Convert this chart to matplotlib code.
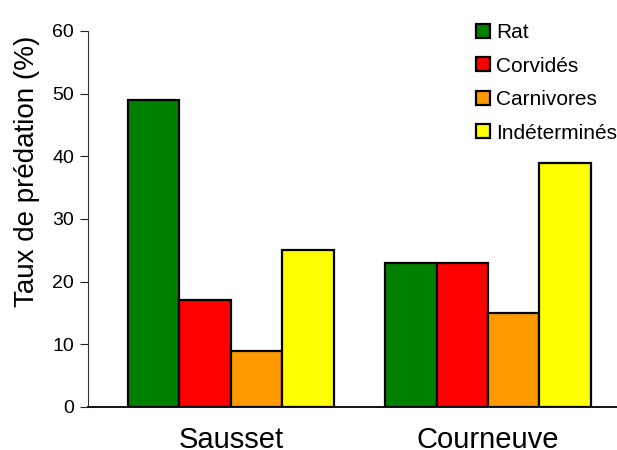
import numpy as np
import matplotlib.pyplot as plt

# data
sites = ["Sausset", "Courneuve"]
predators = ["Rat", "Corvidés", "Carnivores", "Indéterminés"]
rat = [49, 23]
corvides = [17, 23]
carnivores = [9, 15]
indetermines = [25, 39]
yticks = [0, 10, 20, 30, 40, 50, 60]

series = [rat, corvides, carnivores, indetermines]
colors = ["#008000", "#ff0000", "#ff9900", "#ffff00"]

plt.rcParams['font.family'] = ['Liberation Sans', 'DejaVu Sans']

fig = plt.figure(figsize=(6.17, 4.5), dpi=100)
ax = fig.add_axes([0.1426, 0.0956, 0.8574, 0.8356])

x = np.arange(len(sites))
w = 0.2
for i, (vals, c) in enumerate(zip(series, colors)):
    ax.bar(x + (i - 1.5) * w, vals, width=w, color=c, edgecolor="black",
           linewidth=1.6, label=predators[i], zorder=3)

ax.set_xlim(-0.556, 1.502)
ax.set_ylim(0, 60)
ax.set_yticks(yticks)
ax.set_xticks(x)
ax.set_xticklabels(sites, fontsize=21)
ax.tick_params(axis="x", length=0, pad=14)
ax.tick_params(axis="y", direction="out", length=6, width=0.8,
               labelsize=14, pad=4, colors="#222222", labelcolor="black")

for s in ["top", "right"]:
    ax.spines[s].set_visible(False)
ax.spines["left"].set_linewidth(0.8)
ax.spines["left"].set_color("#333333")
ax.spines["bottom"].set_linewidth(1.3)
ax.spines["bottom"].set_color("black")

ax.set_ylabel("Taux de prédation (%)", fontsize=20)
ax.yaxis.set_label_coords(-0.09, 0.628)

leg = ax.legend(loc="upper left", bbox_to_anchor=(476 / 617, 1 - 23 / 450),
                bbox_transform=fig.transFigure, frameon=False, fontsize=15,
                handlelength=0.66, handleheight=0.66, handletextpad=0.3,
                labelspacing=0.7, borderpad=0, borderaxespad=0)
for h in leg.legend_handles:
    h.set_linewidth(1.6)

fig.savefig("out.png", dpi=100)
